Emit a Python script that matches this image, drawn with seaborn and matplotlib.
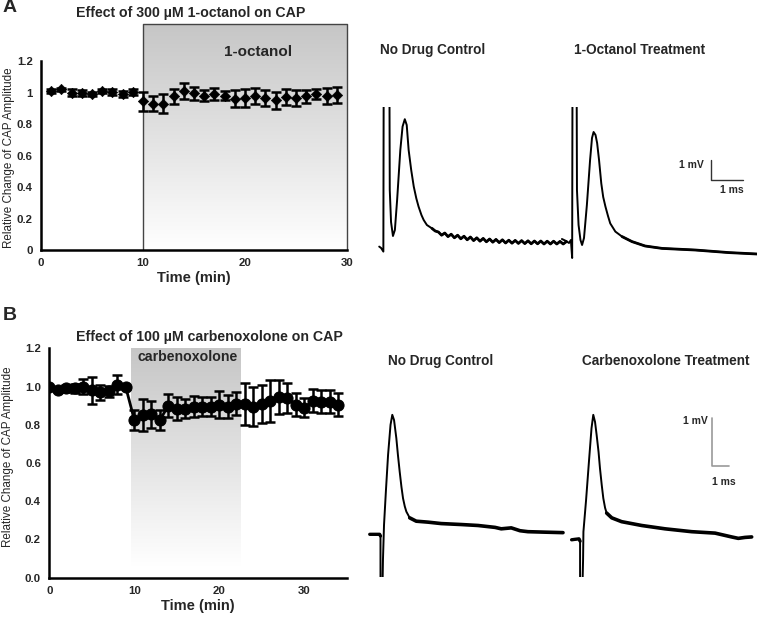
import matplotlib
matplotlib.use("Agg")
import matplotlib.pyplot as plt
import numpy as np
import seaborn as sns
from matplotlib.colors import LinearSegmentedColormap

W, H = 757, 617

# panel A: 300 uM 1-octanol
a_time = list(range(1, 30))
a_mean = [1.01, 1.02, 1.00, 0.995, 0.99, 1.01, 1.005, 0.99, 1.005, 0.945,
          0.93, 0.93, 0.975, 1.01, 0.995, 0.98, 0.99, 0.98, 0.96, 0.965,
          0.98, 0.965, 0.95, 0.97, 0.965, 0.975, 0.99, 0.98, 0.985]
a_err = [0.01, 0.01, 0.02, 0.02, 0.015, 0.01, 0.02, 0.02, 0.02, 0.06,
         0.05, 0.06, 0.045, 0.05, 0.04, 0.035, 0.04, 0.03, 0.055, 0.055,
         0.05, 0.05, 0.055, 0.05, 0.05, 0.04, 0.03, 0.05, 0.05]
a_drug = (10, 30)

# panel B: 100 uM carbenoxolone
b_time = list(range(0, 35))
b_mean = [1.0, 0.98, 0.99, 0.99, 1.0, 0.98, 0.97, 0.975, 1.01, 0.995,
          0.825, 0.85, 0.855, 0.825, 0.9, 0.883, 0.883, 0.895, 0.895, 0.895,
          0.905, 0.895, 0.91, 0.91, 0.895, 0.91, 0.925, 0.945, 0.94, 0.905,
          0.89, 0.925, 0.92, 0.92, 0.905]
b_err = [0.005, 0.01, 0.02, 0.025, 0.04, 0.07, 0.04, 0.03, 0.05, 0.01,
         0.05, 0.085, 0.07, 0.05, 0.06, 0.06, 0.05, 0.055, 0.05, 0.05,
         0.07, 0.06, 0.06, 0.11, 0.1, 0.1, 0.11, 0.09, 0.08, 0.06,
         0.05, 0.06, 0.06, 0.06, 0.06]
b_drug = (9.6, 22.5)

# example CAP traces (ms, mV), row A
a1_ms = [0.35, 0.41, 0.48, 0.49, 0.67, 0.68, 0.72, 0.78, 0.84, 0.91, 1.01,
         1.08, 1.15, 1.21, 1.27, 1.35, 1.43, 1.51, 1.58, 1.67, 1.74, 1.84,
         2.0, 2.1,
         2.2, 2.3, 2.4, 2.5, 2.6, 2.7, 2.8, 2.9, 3.0, 3.1, 3.2, 3.3, 3.4,
         3.5, 3.6, 3.7, 3.8, 3.9, 4.0, 4.1, 4.2, 4.3, 4.4, 4.5, 4.6, 4.7,
         4.8, 4.9, 5.0, 5.1, 5.2, 5.3, 5.4, 5.5, 5.6, 5.7, 5.8, 5.9, 6.0,
         6.1, 6.2]
a1_mv = [0.77, 0.70, 0.52, 9.0, 9.0, 3.6, 2.0, 1.30, 1.6, 3.1, 5.6,
         6.77, 7.14, 6.85, 5.6, 4.6, 3.77, 3.18, 2.77, 2.35, 2.1, 1.85,
         1.68, 1.55,
         1.50, 1.34, 1.45, 1.27, 1.39, 1.21, 1.34, 1.16, 1.29, 1.11, 1.25,
         1.07, 1.21, 1.04, 1.18, 1.01, 1.15, 0.99, 1.13, 0.97, 1.11, 0.95,
         1.09, 0.94, 1.08, 0.93, 1.07, 0.92, 1.06, 0.91, 1.05, 0.91, 1.05,
         0.90, 1.04, 0.90, 1.04, 0.90, 1.03, 0.90, 1.02]
a2_ms = [6.06, 6.19, 6.28, 6.34, 6.38, 6.39, 6.52, 6.53, 6.58, 6.64, 6.69,
         6.75, 6.84, 6.94, 7.0, 7.05, 7.11, 7.16, 7.22, 7.29, 7.35, 7.42,
         7.5, 7.57, 7.66, 7.73, 7.94, 8.25, 8.66, 9.19, 10.22, 11.28, 12.16]
a2_mv = [1.15, 1.05, 0.95, 1.1, 0.2, 9.0, 9.0, 3.6, 1.85, 1.1, 0.85,
         1.2, 2.85, 5.1, 6.2, 6.5, 6.35, 5.95, 5.1, 3.93, 3.25, 2.77,
         2.3, 1.93, 1.7, 1.52, 1.27, 1.02, 0.8, 0.68, 0.6, 0.47, 0.4]

# example CAP traces (ms, mV), row B
b1_ms = [0.10, 0.66, 0.71, 0.71, 0.82, 0.85, 0.91, 1.02, 1.14, 1.28, 1.38,
         1.48, 1.61, 1.70, 1.80, 1.90, 1.99, 2.09, 2.18, 2.37, 2.74, 3.41,
         4.16, 5.30, 6.25, 7.22, 7.57, 8.14, 8.64, 9.09, 10.06, 11.08]
b1_mv = [0.895, 0.895, 0.86, -0.3, -0.3, 0.36, 1.09, 1.82, 2.56, 3.19, 3.40,
         3.29, 2.91, 2.56, 2.21, 1.89, 1.65, 1.48, 1.37, 1.24, 1.17, 1.15,
         1.12, 1.10, 1.08, 1.04, 1.01, 1.03, 0.97, 0.95, 0.94, 0.93]
b2_ms = [11.57, 11.76, 11.99, 12.05, 12.05, 12.18, 12.22, 12.24, 12.39,
         12.56, 12.70, 12.80, 12.90, 12.99, 13.1, 13.18, 13.28, 13.37, 13.47,
         13.56, 13.85, 14.41, 15.55, 16.88, 18.39, 19.72, 20.66, 21.04,
         21.42, 21.80]
b2_mv = [0.78, 0.79, 0.80, 0.75, -0.3, -0.3, 0.36, 0.95, 1.61,
         2.45, 3.12, 3.40, 3.25, 2.98, 2.62, 2.28, 1.93, 1.65, 1.45,
         1.34, 1.24, 1.16, 1.08, 1.01, 0.95, 0.92, 0.84, 0.81,
         0.83, 0.84]

FONT = ["Liberation Sans", "DejaVu Sans"]
SHADE = LinearSegmentedColormap.from_list("shade", ["#ffffff", "#c6c6c6"])
TITLE_SIZE = 10.2
LABEL_SIZE = 9.8


def px_axes(fig, left, top, right, bottom):
    return fig.add_axes([left / W, 1 - bottom / H, (right - left) / W, (bottom - top) / H])


def shade(ax, x0, x1, y0, y1, fade_to=0.0):
    grad = np.linspace(0, 1, 256).reshape(-1, 1)
    grad = np.clip((grad - fade_to) / (1 - fade_to), 0, 1)
    ax.imshow(grad, extent=(x0, x1, y0, y1), origin="lower", aspect="auto",
              cmap=SHADE, vmin=0, vmax=1, zorder=0)


def style_axes(ax, ylabels, label_xy):
    for side in ("top", "right"):
        ax.spines[side].set_visible(False)
    for side in ("left", "bottom"):
        ax.spines[side].set_linewidth(1.8)
        ax.spines[side].set_color("black")
    ax.set_yticks([0, 0.2, 0.4, 0.6, 0.8, 1.0, 1.2])
    ax.set_yticklabels(ylabels)
    ax.tick_params(length=3, width=1.2, direction="out", labelsize=8.2, pad=3)
    for lab in ax.get_xticklabels() + ax.get_yticklabels():
        lab.set_fontweight("bold")
    ax.set_ylabel("Relative Change of CAP Amplitude", fontsize=8.4)
    ax.yaxis.set_label_coords(*label_xy)
    ax.set_xlabel("Time (min)", fontsize=10.5, fontweight="bold", labelpad=2)


def main() -> None:
    sns.set_theme(style="white")
    plt.rcParams["font.family"] = FONT
    fig = plt.figure(figsize=(W / 100, H / 100), dpi=100)

    # ---- panel A time course
    ax = px_axes(fig, 41, 24, 347, 250)
    ax.set_xlim(0, 30)
    ax.set_ylim(0, 1.435)
    shade(ax, a_drug[0], a_drug[1], 0, 1.435)
    ax.plot([a_drug[0], a_drug[0], a_drug[1], a_drug[1]], [0, 1.435, 1.435, 0],
            color="#444444", lw=1.0, zorder=1, clip_on=False)
    ax.errorbar(a_time, a_mean, yerr=a_err, fmt="none", ecolor="black",
                elinewidth=1.8, capsize=3.5, capthick=1.8, zorder=3)
    sns.scatterplot(x=a_time, y=a_mean, marker="D", s=28, color="black",
                    edgecolor="black", ax=ax, zorder=4)
    ax.set_xticks([0, 10, 20, 30])
    style_axes(ax, ["0", "0.2", "0.4", "0.6", "0.8", "1", "1.2"], (-0.086, 0.407))
    ax.spines["left"].set_bounds(0, 1.2)
    ax.text(21.3, 1.26, "1-octanol", ha="center", va="center",
            fontsize=11, fontweight="bold")
    fig.text(191 / W, 1 - 13 / H, "Effect of 300 µM 1-octanol on CAP",
             ha="center", va="center", fontsize=TITLE_SIZE, fontweight="bold")
    fig.text(3 / W, 1 - 8 / H, "A", ha="left", va="center",
             fontsize=14, fontweight="bold")

    # ---- panel B time course
    bx = px_axes(fig, 49.3, 348.3, 347, 577.7)
    bx.set_xlim(0, 35)
    bx.set_ylim(0, 1.2)
    shade(bx, b_drug[0], b_drug[1], 0, 1.2, fade_to=0.05)
    bx.errorbar(b_time, b_mean, yerr=b_err, fmt="none", ecolor="black",
                elinewidth=1.8, capsize=3.5, capthick=1.8, zorder=3)
    sns.lineplot(x=b_time, y=b_mean, color="black", lw=2, marker="o",
                 markersize=8, markeredgecolor="black", ax=bx, zorder=4)
    bx.set_xticks([0, 10, 20, 30])
    style_axes(bx, ["0.0", "0.2", "0.4", "0.6", "0.8", "1.0", "1.2"], (-0.117, 0.526))
    bx.text(16.3, 1.157, "carbenoxolone", ha="center", va="center",
            fontsize=TITLE_SIZE, fontweight="bold")
    fig.text(209 / W, 1 - 337 / H, "Effect of 100 µM carbenoxolone on CAP",
             ha="center", va="center", fontsize=TITLE_SIZE, fontweight="bold")
    fig.text(3 / W, 1 - 315 / H, "B", ha="left", va="center",
             fontsize=14, fontweight="bold")

    # ---- example traces, row A
    ta = px_axes(fig, 368, 107, 757, 262)
    ta.set_xlim(0, 389 / 32)
    ta.set_ylim(0, 155 / 20)
    ta.plot(a1_ms, a1_mv, color="black", lw=1.4)
    ta.plot(a1_ms[22:], a1_mv[22:], color="black", lw=2.0)
    ta.plot(a2_ms, a2_mv, color="black", lw=1.4)
    ta.plot(a2_ms[26:], a2_mv[26:], color="black", lw=2.0)
    ta.plot([10.72, 10.72, 11.72], [5.1, 4.1, 4.1], color="#333333", lw=1.0)
    ta.text(10.11, 4.85, "1 mV", ha="center", va="center", fontsize=7.5, fontweight="bold")
    ta.text(11.36, 3.6, "1 ms", ha="center", va="center", fontsize=7.5, fontweight="bold")
    ta.axis("off")
    fig.text(380 / W, 1 - 50 / H, "No Drug Control", ha="left", va="center",
             fontsize=LABEL_SIZE, fontweight="bold")
    fig.text(574 / W, 1 - 50 / H, "1-Octanol Treatment", ha="left", va="center",
             fontsize=LABEL_SIZE, fontweight="bold")

    # ---- example traces, row B
    tb = px_axes(fig, 368, 405, 757, 577)
    tb.set_xlim(0, 389 / 17.6)
    tb.set_ylim(0, 172 / 47.7)
    tb.plot(b1_ms, b1_mv, color="black", lw=1.4)
    tb.plot(b1_ms[19:], b1_mv[19:], color="black", lw=2.6)
    tb.plot(b1_ms[:3], b1_mv[:3], color="black", lw=2.4)
    tb.plot(b2_ms, b2_mv, color="black", lw=1.4)
    tb.plot(b2_ms[19:], b2_mv[19:], color="black", lw=2.6)
    tb.plot(b2_ms[:4], b2_mv[:4], color="black", lw=2.4)
    tb.plot([19.53, 19.53, 20.53], [3.33, 2.33, 2.33], color="#999999", lw=1.2)
    tb.text(19.3, 3.26, "1 mV", ha="right", va="center", fontsize=7.5, fontweight="bold")
    tb.text(20.2, 2.0, "1 ms", ha="center", va="center", fontsize=7.5, fontweight="bold")
    tb.axis("off")
    fig.text(388 / W, 1 - 361 / H, "No Drug Control", ha="left", va="center",
             fontsize=LABEL_SIZE, fontweight="bold")
    fig.text(582 / W, 1 - 361 / H, "Carbenoxolone Treatment", ha="left", va="center",
             fontsize=LABEL_SIZE, fontweight="bold")

    fig.savefig("out.png", dpi=100)


if __name__ == "__main__":
    main()
